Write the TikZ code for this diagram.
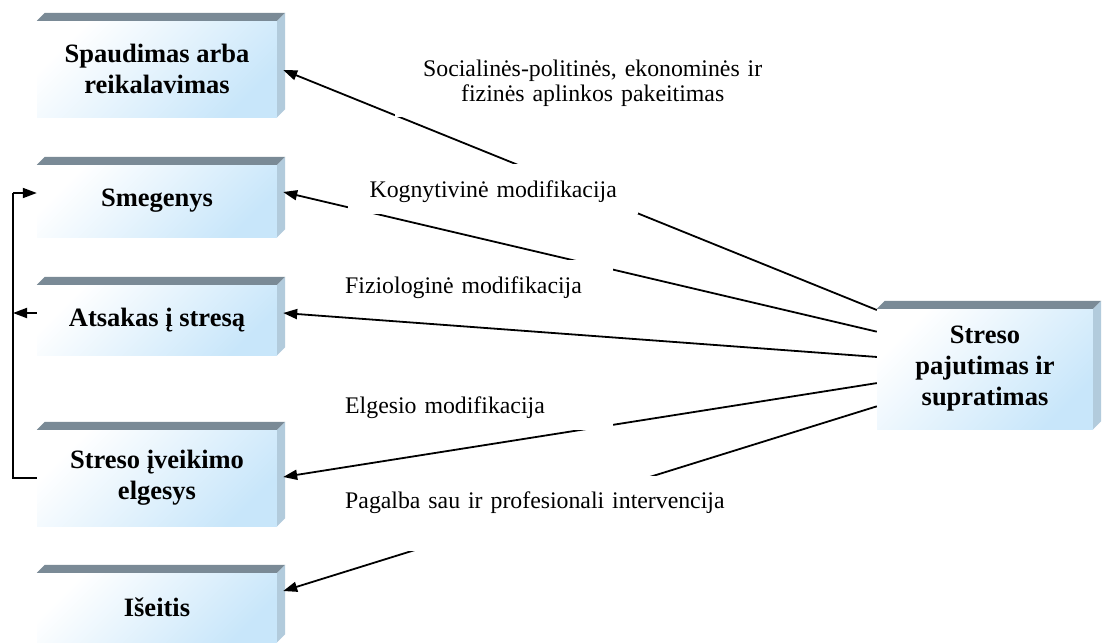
\documentclass[tikz,border=0pt]{standalone}
\usepackage{fontspec}
\setmainfont{Liberation Serif}
\usetikzlibrary{arrows.meta,calc}
\definecolor{topc}{HTML}{7A8A96}
\definecolor{sidec}{HTML}{B2CBDC}
\definecolor{frontc}{HTML}{C8E6FA}
\newcommand\boxfaces[1]{%
 \fill[topc] (#1.north west) -- ++(8,-8) -- ($(#1.north east)+(8,-8)$) -- (#1.north east) -- cycle;
 \fill[sidec] (#1.north east) -- ++(8,-8) -- ($(#1.south east)+(8,-8)$) -- (#1.south east) -- cycle;}
\begin{document}
\begin{tikzpicture}[x=1pt,y=-1pt,
 blk/.style={inner sep=0pt, top color=white, bottom color=frontc, shading angle=45, align=center, font=\fontsize{26.5}{31}\selectfont\bfseries},
 lab/.style={fill=white, inner ysep=0pt, anchor=base west, font=\fontsize{23.8}{24.5}\selectfont},
 arr/.style={line width=1.8pt, -{Triangle[length=14pt,width=10pt]}},
 ln/.style={line width=1.8pt}]
\useasboundingbox (0,0) rectangle (1102,642);
\fill[white] (0,0) rectangle (1102,642);
% boxes
\node[blk, minimum width=240pt, minimum height=96pt] (spa) at (157,69) {Spaudimas arba\\reikalavimas};
\node[blk, minimum width=240pt, minimum height=72pt] (smeg) at (157,201) {Smegenys};
\node[blk, minimum width=240pt, minimum height=70pt] (ats) at (157,320) {Atsakas į stresą};
\node[blk, minimum width=240pt, minimum height=96pt] (str) at (157,478) {Streso įveikimo\\elgesys};
\node[blk, minimum width=240pt, minimum height=69pt] (ise) at (157,607.5) {Išeitis};
\node[blk, minimum width=216pt, minimum height=120pt] (stress) at (985,369) {Streso\\pajutimas ir\\supratimas};
\boxfaces{spa}\boxfaces{smeg}\boxfaces{ats}\boxfaces{str}\boxfaces{ise}\boxfaces{stress}
% feedback loop
\coordinate (fb) at (13,193);
\coordinate (fb2) at (13,313);
\draw[ln] (str.west) -| (fb);
\draw[arr] (fb) -- (fb -| smeg.west);
\draw[arr] ($(ats.west)+(0,-7)$) -- (fb2);
% main connectors
\draw[arr] ($(stress.north west)!0.01!(stress.south west)$) -- ($(spa.east)+(6,1)$);
\draw[arr] ($(stress.north west)!0.19!(stress.south west)$) -- ($(smeg.east)+(6,-9)$);
\draw[arr] ($(stress.north west)!0.4!(stress.south west)$) -- ($(ats.east)+(6,-7)$);
\draw[arr] ($(stress.north west)!0.617!(stress.south west)$) -- ($(str.east)+(6,-1)$);
\draw[arr] ($(stress.north west)!0.81!(stress.south west)$) -- ($(ise.east)+(6,-16.5)$);
% labels
\node[lab, inner xsep=0pt, text width=395pt, align=center, text height=27pt, text depth=40pt] (l1) at (395,77) {Socialinės-politinės, ekonominės ir\\fizinės aplinkos pakeitimas};
\node[lab, inner xsep=0pt, text width=290pt, align=center, text height=33pt, text depth=17pt] (l2) at (348,197) {Kognytivinė modifikacija};
\node[lab, inner xsep=15pt, text width=253pt, align=left, text height=33pt, text depth=19pt] (l3) at (330,293) {Fiziologinė modifikacija};
\node[lab, inner xsep=15pt, text width=253pt, align=left, text height=27pt, text depth=17pt] (l4) at (330,413) {Elgesio modifikacija};
\node[lab, inner xsep=15pt, text width=410pt, align=left, text height=32pt, text depth=43pt] (l5) at (330,508) {Pagalba sau ir profesionali intervencija};
\end{tikzpicture}
\end{document}
